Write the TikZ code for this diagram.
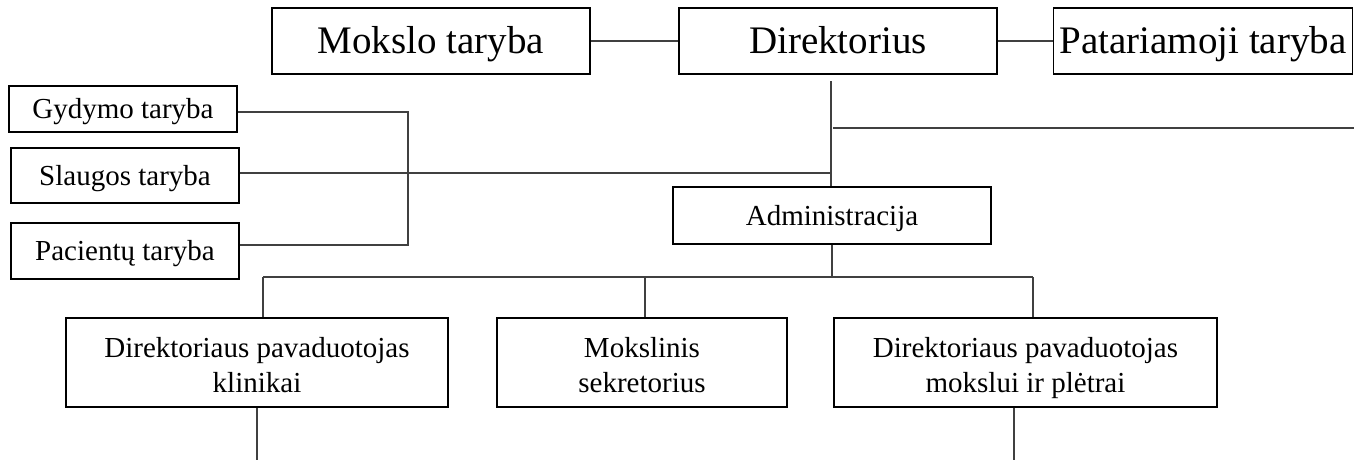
\documentclass[tikz,border=0pt]{standalone}
\usepackage{fontspec}
\setmainfont{Liberation Serif}
\usetikzlibrary{calc}
\begin{document}
\begin{tikzpicture}[x=1pt,y=-1pt,
  box/.style={draw=black, line width=1.8pt, fill=white, inner sep=0pt, align=center},
  bigbox/.style={box, font=\fontsize{39}{45}\selectfont, text height=27pt, text depth=3pt},
  smallbox/.style={box, font=\fontsize{29}{35}\selectfont, text height=22pt, text depth=3pt},
  twobox/.style={box, font=\fontsize{29}{35}\selectfont},
  conn/.style={draw=black!75, line width=1.4pt}]
\useasboundingbox (0,0) rectangle (1354,460);
% top row
\node[bigbox, minimum width=318pt, minimum height=66pt] (mokslo) at (431,41) {Mokslo taryba};
\node[bigbox, minimum width=318pt, minimum height=66pt] (dir) at (838,41) {Direktorius};
\node[bigbox, minimum width=299pt, minimum height=66pt] (patar) at (1203,41) {Patariamoji taryba};
% left councils
\node[smallbox, minimum width=228pt, minimum height=46pt] (gyd) at (123,109) {Gydymo taryba};
\node[smallbox, minimum width=228pt, minimum height=55pt] (slaug) at (125,175.5) {Slaugos taryba};
\node[smallbox, minimum width=228pt, minimum height=56pt] (pac) at (125,251) {Pacientų taryba};
% administration
\node[smallbox, minimum width=318pt, minimum height=57pt] (admin) at (832,215.5) {Administracija};
% bottom row
\node[twobox, minimum width=382pt, minimum height=89pt] (klin) at (257,362.5) {\rule{0pt}{35pt}Direktoriaus pavaduotojas\\klinikai\strut};
\node[twobox, minimum width=290pt, minimum height=89pt] (moks) at (642,362.5) {\rule{0pt}{35pt}Mokslinis\\sekretorius\strut};
\node[twobox, minimum width=383pt, minimum height=89pt] (plet) at (1025.5,362.5) {\rule{0pt}{35pt}Direktoriaus pavaduotojas\\mokslui ir plėtrai\strut};
% helper coordinates
\coordinate (dtop) at (831,81);
\coordinate (rend) at (1354,128);
\coordinate (bx) at (408,0);
\coordinate (busl) at (263,277);
\coordinate (busm) at (645,277);
\coordinate (busr) at (1033,277);
\coordinate (klinout) at (257,460);
\coordinate (pletout) at (1014,460);
% connectors
\draw[conn] (mokslo.east) -- (dir.west);
\draw[conn] (dir.east) -- (patar.west);
\draw[conn] (dtop) -- (dtop |- admin.north);
\draw[conn] ($(dtop |- rend)+(2,0)$) -- (rend);
\draw[conn] (slaug.east |- 0,173) -- (dtop |- 0,173);
\draw[conn] (gyd.east |- 0,112) -| (bx |- 0,245) -- (pac.east |- 0,245);
\draw[conn] (admin.south) -- (admin.south |- busl);
\draw[conn] (busl) -- (busr);
\draw[conn] (busl) -- (busl |- klin.north);
\draw[conn] (busm) -- (busm |- moks.north);
\draw[conn] (busr) -- (busr |- plet.north);
\draw[conn] (klinout |- klin.south) -- (klinout);
\draw[conn] (pletout |- plet.south) -- (pletout);
\end{tikzpicture}
\end{document}
